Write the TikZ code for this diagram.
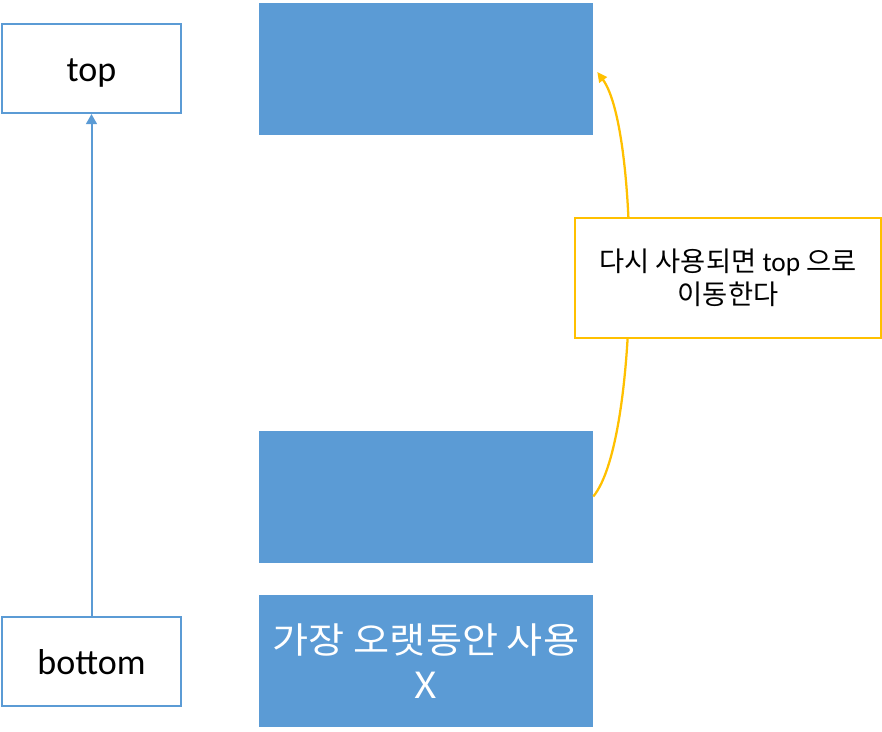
\documentclass[tikz,border=0pt]{standalone}
\usepackage{fontspec}
\setmainfont{Carlito}
\newfontfamily\kr[FakeStretch=1.09]{Noto Sans CJK KR}
\newfontfamily\krn{Noto Sans CJK KR}
\usetikzlibrary{arrows.meta,calc}
\definecolor{blu}{HTML}{5B9BD5}
\definecolor{gld}{HTML}{FFC000}
\begin{document}
\begin{tikzpicture}[x=0.75pt,y=-0.75pt,
  lblbox/.style={draw=blu, line width=1.5pt, fill=white, inner sep=0pt,
    minimum width=179*0.75pt, minimum height=89*0.75pt,
    text height=22pt, text depth=2.5pt,
    font=\fontsize{27pt}{30pt}\selectfont},
  blk/.style={fill=blu, draw=none, inner sep=0pt,
    minimum width=334*0.75pt, minimum height=132*0.75pt},
  callout/.style={draw=gld, line width=1.5pt, fill=white, inner sep=0pt,
    minimum width=306*0.75pt, minimum height=120*0.75pt, align=center,
    font=\krn\fontsize{20.5pt}{24.75pt}\selectfont},
  blueconn/.style={blu, line width=1.5pt, -{Triangle[length=7.5pt,width=8pt]}},
  goldconn/.style={gld, line width=1.7pt, -{Triangle[length=7.5pt,width=7pt]}}
]
\useasboundingbox (0,0) rectangle (882,732);
\node[lblbox] (top) at (91.5,68.5) {top};
\node[lblbox] (bottom) at (91.5,661) {bottom};
\draw[blueconn] (bottom.north) -- (top.south);
\node[blk] (blk1) at (426,69) {};
\node[blk] (blk2) at (426,496.5) {};
\node[blk, text=white, align=center, font=\kr\fontsize{27pt}{34pt}\selectfont] (blk3) at (426,661) {가장 오랫동안 사용\\X};
\draw[goldconn] (blk2.east) .. controls (640,440) and (640,130) .. ($(blk1.east)+(4,3)$);
\node[callout] (note) at (728,278) {다시 사용되면 {\rmfamily top} 으로\\이동한다};
\end{tikzpicture}
\end{document}
